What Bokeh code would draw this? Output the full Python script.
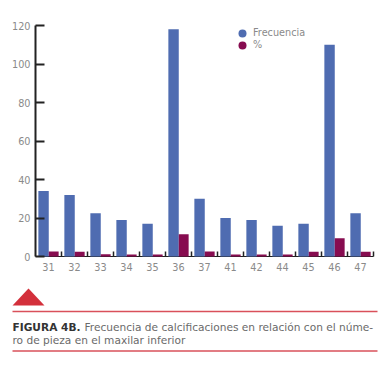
import math
from bokeh.plotting import figure
from bokeh.models import (ColumnDataSource, FixedTicker, CustomJSTickFormatter, Range1d,
                          LinearAxis, Legend, LegendItem, Label)
from bokeh.embed import file_html
from bokeh.resources import INLINE

# ---- data ----
piezas = ["31", "32", "33", "34", "35", "36", "37", "41", "42", "44", "45", "46", "47"]
frecuencia = [34, 32, 22.5, 19, 17, 118, 30, 20, 19, 16, 17, 110, 22.5]
porcentaje = [2.6, 2.5, 1.2, 1.1, 1.1, 11.5, 2.6, 1.1, 1.1, 1.1, 2.5, 9.5, 2.5]
y_ticks = [0, 20, 40, 60, 80, 100, 120]
y_max = 120
series_names = ["Frecuencia", "%"]
caption_bold = "FIGURA 4B."
caption_line1 = "Frecuencia de calcificaciones en relación con el núme-"
caption_line2 = "ro de pieza en el maxilar inferior"

BLUE = "#4f6cb1"
PURPLE = "#870c50"
GRAY = "#8a8a8a"
RED = "#d3303b"
LINE_RED = "#d9505a"
FONT = "DejaVu Sans"

# ---- page geometry (pixels) ----
W, H = 378, 366
plot_left, plot_right = 35, 373      # x of category 0 and of the last slot end
plot_top, plot_bottom = 25, 256      # y of value y_max and of value 0

n = len(piezas)
slot = (plot_right - plot_left) / n
unit = (plot_bottom - plot_top) / y_max

idx = list(range(n))
src = ColumnDataSource(dict(
    xb=[i + 0.31 for i in idx],
    xp=[i + 0.70 for i in idx],
    f=frecuencia, p=porcentaje,
))

p = figure(width=W, height=H, output_backend="svg", toolbar_location=None,
           x_range=Range1d(0, W), y_range=Range1d(H, 0),
           x_axis_location=None, y_axis_location=None,
           min_border=0, min_border_left=0, min_border_right=0,
           min_border_top=0, min_border_bottom=0)
p.outline_line_color = None
p.grid.grid_line_color = None
p.extra_x_ranges = {"cat": Range1d(-plot_left / slot, n + (W - plot_right) / slot)}
p.extra_y_ranges = {"val": Range1d(-(H - plot_bottom) / unit, y_max + plot_top / unit)}

p.vbar(x="xb", top="f", width=0.40, source=src, fill_color=BLUE, line_color=None,
       x_range_name="cat", y_range_name="val")
p.vbar(x="xp", top="p", width=0.38, source=src, fill_color=PURPLE, line_color=None,
       x_range_name="cat", y_range_name="val")

# y axis at category position 0
ya = LinearAxis(x_range_name="cat", y_range_name="val", fixed_location=0, bounds=(0, y_max))
ya.ticker = FixedTicker(ticks=y_ticks)
ya.axis_line_color = "#222222"
ya.axis_line_width = 2
ya.major_tick_in = 9
ya.major_tick_out = 0
ya.major_tick_line_width = 2
ya.major_tick_line_color = "#222222"
ya.minor_tick_line_color = None
ya.major_label_text_color = GRAY
ya.major_label_text_font = FONT
ya.major_label_text_font_size = "9.7px"
ya.major_label_standoff = 5
p.add_layout(ya, "left")

# x axis at value 0
xa = LinearAxis(x_range_name="cat", y_range_name="val", fixed_location=0, bounds=(0, n))
xa.ticker = FixedTicker(ticks=[i + 0.5 for i in idx], minor_ticks=[i + 1 for i in idx])
xa.formatter = CustomJSTickFormatter(args=dict(labels=piezas),
                                     code="return labels[Math.floor(tick)];")
xa.major_tick_line_color = None
xa.minor_tick_in = 5
xa.minor_tick_out = 0
xa.minor_tick_line_color = "#222222"
xa.minor_tick_line_width = 1.5
xa.axis_line_color = "#222222"
xa.axis_line_width = 1
xa.level = "underlay"
xa.major_label_text_color = GRAY
xa.major_label_text_font = FONT
xa.major_label_text_font_size = "9.7px"
xa.major_label_standoff = 0
p.add_layout(xa, "below")

# legend with circle icons (renderers hold no visible points); one legend per row
nan_src = ColumnDataSource(dict(x=[math.nan], y=[math.nan]))
for name, color, ybot in zip(series_names, [BLUE, PURPLE], [H - 42.5, H - 54.5]):
    r = p.scatter(x="x", y="y", source=nan_src, size=8, marker="circle",
                  fill_color=color, line_color=None)
    lg = Legend(items=[LegendItem(label=name, renderers=[r])],
                location=(232, ybot), padding=0, spacing=0, margin=0,
                glyph_width=20, glyph_height=20, label_height=20, label_standoff=1,
                label_text_font=FONT, label_text_font_size="9.7px", label_text_color=GRAY,
                label_text_baseline="middle",
                border_line_color=None, background_fill_alpha=0)
    p.add_layout(lg)

# ---- caption (pixel coordinates on the default ranges) ----
p.patch(x=[12, 44, 28], y=[305, 305, 288], fill_color=RED, line_color=None)
p.line(x=[12, 377], y=[311, 311], line_color=LINE_RED, line_width=1.5)
p.line(x=[12, 377], y=[350.5, 350.5], line_color=LINE_RED, line_width=1.5)
p.add_layout(Label(x=12, y=326.5, text=caption_bold, text_font=FONT, text_font_size="10.6px",
                   text_font_style="bold", text_color="#333333", text_baseline="middle"))
p.add_layout(Label(x=84, y=326.5, text=caption_line1, text_font=FONT, text_font_size="10.6px",
                   text_color="#6a6a6a", text_baseline="middle"))
p.add_layout(Label(x=12, y=339, text=caption_line2, text_font=FONT, text_font_size="10.6px",
                   text_color="#6a6a6a", text_baseline="middle"))

open("out.html", "w").write(file_html(p, INLINE))
